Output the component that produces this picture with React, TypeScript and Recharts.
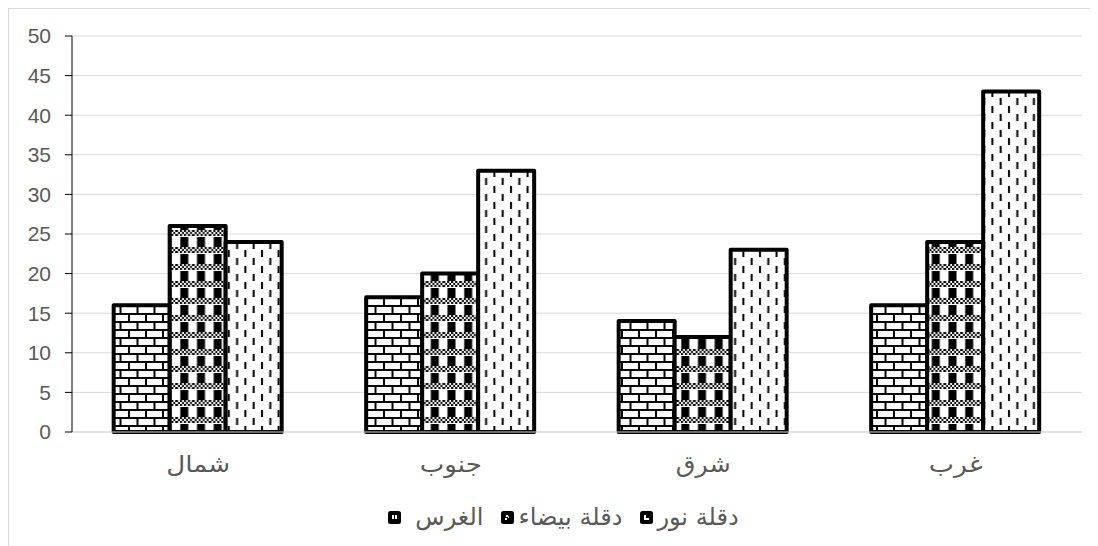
import React, { useLayoutEffect, useRef, useState } from "react";
import { BarChart, Bar, XAxis, YAxis, CartesianGrid, Legend } from "recharts";

const categories = ["شمال", "جنوب", "شرق", "غرب"];
const seriesNames = ["الغرس", "دقلة بيضاء", "دقلة نور"];
const gharsValues = [16, 17, 14, 16];
const baidaValues = [26, 20, 12, 24];
const nourValues = [24, 33, 23, 43];
const yTicks = [0, 5, 10, 15, 20, 25, 30, 35, 40, 45, 50];

const data = categories.map((c, i) => ({
  name: c,
  s1: gharsValues[i],
  s2: baidaValues[i],
  s3: nourValues[i],
}));

const NUM_FONT = "'Liberation Sans', Arial, sans-serif";
const AR_FONT = "'DejaVu Sans', sans-serif";
const GRAY = "#595959";

// Target rendered widths of Arabic labels (styling only)
const catLabelWidth: Record<string, number> = { "شمال": 64, "جنوب": 62, "شرق": 55, "غرب": 54 };

type FitProps = { x: number; y: number; width: number; size: number; children: string };

const FitText = ({ x, y, width, size, children }: FitProps) => {
  const ref = useRef<SVGTextElement>(null);
  const [scale, setScale] = useState(1);
  useLayoutEffect(() => {
    if (ref.current) {
      const w = ref.current.getComputedTextLength();
      if (w > 0) setScale(width / w);
    }
  }, [width, children]);
  return (
    <text
      ref={ref}
      transform={`translate(${x},${y}) scale(${scale},1)`}
      x={0}
      y={0}
      textAnchor="middle"
      fill={GRAY}
      fontSize={size}
      fontFamily={AR_FONT}
    >
      {children}
    </text>
  );
};

const CategoryTick = (props: any) => {
  const { x, y, payload } = props;
  return (
    <FitText x={x} y={y + 18} width={catLabelWidth[payload.value]} size={23}>
      {payload.value}
    </FitText>
  );
};

const LegendIcon = ({ kind }: { kind: number }) => (
  <svg width={13} height={13} style={{ display: "block" }}>
    <rect x={0} y={0} width={13} height={13} rx={2.5} fill="#000" />
    {kind === 0 && (
      <>
        <rect x={4} y={4} width={2} height={4} fill="#fff" />
        <rect x={7} y={4} width={2} height={4} fill="#fff" />
      </>
    )}
    {kind === 1 && (
      <>
        <rect x={5} y={4} width={2} height={2} fill="#fff" />
        <rect x={7} y={5} width={1} height={2} fill="#ccc" />
        <rect x={4} y={7} width={2} height={2} fill="#fff" />
      </>
    )}
    {kind === 2 && (
      <>
        <rect x={4} y={4} width={2} height={5} fill="#fff" />
        <rect x={4} y={7} width={5} height={2} fill="#fff" />
      </>
    )}
  </svg>
);

const renderLegend = () => (
  <div
    style={{
      height: 24,
      width: 1073,
      display: "flex",
      justifyContent: "center",
      alignItems: "center",
      paddingLeft: 36,
      boxSizing: "border-box",
    }}
  >
    {seriesNames.map((n, i) => (
      <div key={n} style={{ display: "flex", alignItems: "center", marginLeft: i === 0 ? 0 : 18 }}>
        <LegendIcon kind={i} />
        <span
          style={{
            marginLeft: i === 0 ? 14 : 4,
            fontFamily: AR_FONT,
            fontSize: 24,
            color: GRAY,
            whiteSpace: "nowrap",
            lineHeight: "24px",
          }}
        >
          {n}
        </span>
      </div>
    ))}
  </div>
);

export default function App() {
  return (
    <div
      style={{
        width: 1089,
        height: 537,
        borderLeft: "1px solid #d9d9d9",
        borderTop: "1px solid #d9d9d9",
        background: "#fff",
      }}
    >
      <BarChart
        width={1089}
        height={537}
        data={data}
        margin={{ top: 27, right: 16, left: 0, bottom: 17 }}
        barCategoryGap="16.5%"
        barGap={0}
      >
        <defs>
          <pattern id="fine" width={4} height={4} patternUnits="userSpaceOnUse">
            <rect width={4} height={4} fill="#fff" />
            <rect x={0} y={0} width={2} height={2} fill="#000" />
            <rect x={2} y={2} width={2} height={2} fill="#000" />
          </pattern>
          <pattern id="brick" width={17} height={16} patternUnits="userSpaceOnUse">
            <rect width={17} height={16} fill="#fff" />
            <rect x={0} y={0} width={17} height={2} fill="#000" />
            <rect x={0} y={8} width={17} height={2} fill="#000" />
            <rect x={0} y={0} width={2} height={8} fill="#000" />
            <rect x={8.5} y={8} width={2} height={8} fill="#000" />
          </pattern>
          <pattern id="checker" width={16.7} height={17} patternUnits="userSpaceOnUse">
            <rect width={16.7} height={17} fill="#fff" />
            <rect x={0} y={0} width={16.7} height={6} fill="url(#fine)" />
            <rect x={4.3} y={7} width={8} height={10} fill="#000" />
          </pattern>
          <pattern id="dash" width={16.6} height={16} patternUnits="userSpaceOnUse">
            <rect width={16.6} height={16} fill="#fff" />
            <rect x={3} y={1} width={2} height={7} fill="#000" />
            <rect x={11.3} y={9} width={2} height={7} fill="#000" />
          </pattern>
        </defs>
        <CartesianGrid vertical={false} stroke="#d9d9d9" strokeWidth={1} />
        <XAxis
          dataKey="name"
          height={73}
          tickLine={false}
          tickSize={0}
          tickMargin={22}
          axisLine={{ stroke: "#d9d9d9" }}
          tick={<CategoryTick />}
        />
        <YAxis
          width={63}
          domain={[0, 50]}
          ticks={yTicks}
          interval={0}
          tickSize={7}
          tickMargin={14}
          axisLine={{ stroke: "#000" }}
          tickLine={{ stroke: "#000" }}
          tick={{ fill: GRAY, fontSize: 21, fontFamily: NUM_FONT }}
        />
        <Legend verticalAlign="bottom" align="left" content={renderLegend} />
        <Bar dataKey="s1" name={seriesNames[0]} fill="url(#brick)" stroke="#000" strokeWidth={4} strokeLinejoin="round" isAnimationActive={false} />
        <Bar dataKey="s2" name={seriesNames[1]} fill="url(#checker)" stroke="#000" strokeWidth={4} strokeLinejoin="round" isAnimationActive={false} />
        <Bar dataKey="s3" name={seriesNames[2]} fill="url(#dash)" stroke="#000" strokeWidth={4} strokeLinejoin="round" isAnimationActive={false} />
      </BarChart>
    </div>
  );
}
